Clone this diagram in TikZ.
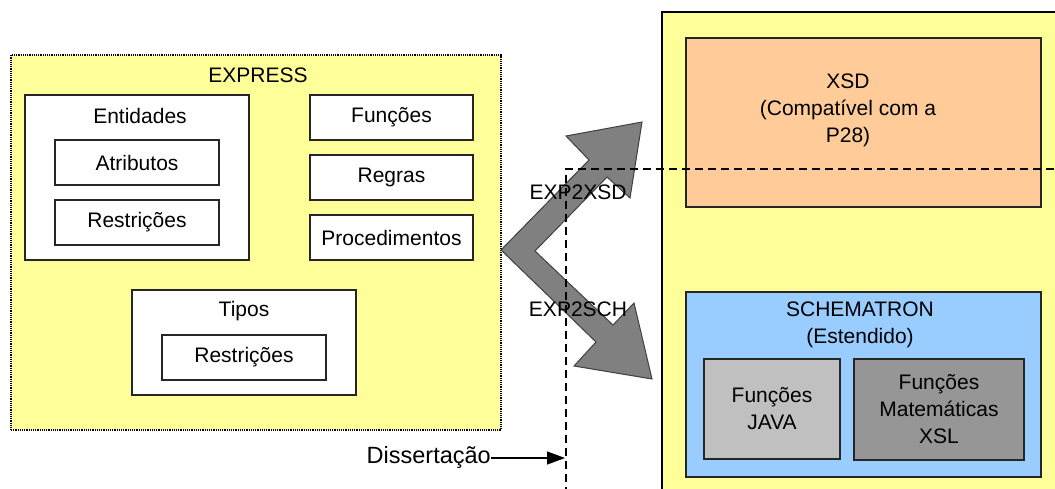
\documentclass[tikz,border=0pt]{standalone}
\usepackage{fontspec}
\setmainfont{Liberation Sans}
\usetikzlibrary{arrows.meta}
\definecolor{lyellow}{HTML}{FFFF99}
\definecolor{lorange}{HTML}{FFCC99}
\definecolor{lblue}{HTML}{99CCFF}
\definecolor{lgray}{HTML}{C0C0C0}
\definecolor{mgray}{HTML}{969696}
\definecolor{agray}{HTML}{808080}
\tikzset{
  box/.style={draw=black!85, line width=1.2pt, fill=white, inner sep=0pt, align=center},
  txt/.style={inner sep=0pt, align=center},
  sepline/.style={draw=black, line width=1.4pt, dash pattern=on 8pt off 5pt},
}
\begin{document}
\begin{tikzpicture}[x=1pt,y=-1pt,font=\fontsize{21}{27}\selectfont]
\useasboundingbox (0,0) rectangle (1055,488);
\fill[white] (0,0) rectangle (1055,488);
% EXPRESS container
\node[box, fill=lyellow, draw=black, densely dotted, line width=1.2pt, minimum width=490pt, minimum height=375pt] (express) at (256,242.5) {};
\node[txt] (expresslbl) at (258,75) {EXPRESS};
\node[box, minimum width=224pt, minimum height=165pt] (entidades) at (137,177.5) {};
\node[txt] (entidadeslbl) at (140,116) {Entidades};
\node[box, minimum width=164pt, minimum height=45pt] (atributos) at (137,162.5) {Atributos};
\node[box, minimum width=164pt, minimum height=45pt] (restr1) at (137,222.5) {Restrições};
\node[box, minimum width=163pt, minimum height=45pt] (funcoes) at (391.5,117.5) {Funções};
\node[box, minimum width=163pt, minimum height=45pt] (regras) at (391.5,177.5) {Regras};
\node[box, minimum width=163pt, minimum height=45pt] (proced) at (391.5,237.5) {Procedimentos};
\node[box, minimum width=224pt, minimum height=105pt] (tipos) at (244,342.5) {};
\node[txt] (tiposlbl) at (244,311) {Tipos};
\node[box, minimum width=164pt, minimum height=45pt] (restr2) at (244,357.5) {Restrições};
% right container
\draw[fill=lyellow, draw=black, line width=2pt] (662,12) rectangle (1070,500);
\node[box, fill=lorange, minimum width=355pt, minimum height=169pt] (xsd) at (863.5,122.5) {};
\node[txt] (xsdlbl) at (848,110) {XSD\\(Compatível com a\\P28)};
\node[box, fill=lblue, minimum width=355pt, minimum height=185pt] (sch) at (863.5,384.5) {};
\node[txt] (schlbl) at (860,325) {SCHEMATRON\\(Estendido)};
\node[box, fill=lgray, minimum width=136pt, minimum height=100pt] (java) at (772,409) {Funções\\JAVA};
\node[box, fill=mgray, minimum width=170pt, minimum height=101pt] (mathxsl) at (939,409.5) {Funções\\Matemáticas\\XSL};
% zigzag arrow
\draw[fill=agray, draw=black!75, line width=1pt, line join=miter]
  (501,250) -- (589,160) -- (566,136) -- (642,122) -- (630,198) -- (607,177)
  -- (535,251) -- (613,325) -- (634,303) -- (652,379) -- (574,366) -- (596,342) -- cycle;
% dashed separator
\coordinate (sepbot) at (566,495);
\coordinate (sepcorner) at (566,169);
\coordinate (sepright) at (1070,169);
\draw[sepline] (sepbot) -- (sepcorner) -- (sepright);
\node[txt] (exp2xsd) at (578,192) {EXP2XSD};
\node[txt] (exp2sch) at (578,309) {EXP2SCH};
% Dissertacao
\node[txt, anchor=east, font=\fontsize{23.5}{28}\selectfont] (diss) at (491,457) {Dissertação};
\coordinate (dissend) at (565,458);
\draw[line width=1.2pt, -{Triangle[length=18pt,width=13pt]}] (diss.east |- dissend) -- (dissend);
\end{tikzpicture}
\end{document}
